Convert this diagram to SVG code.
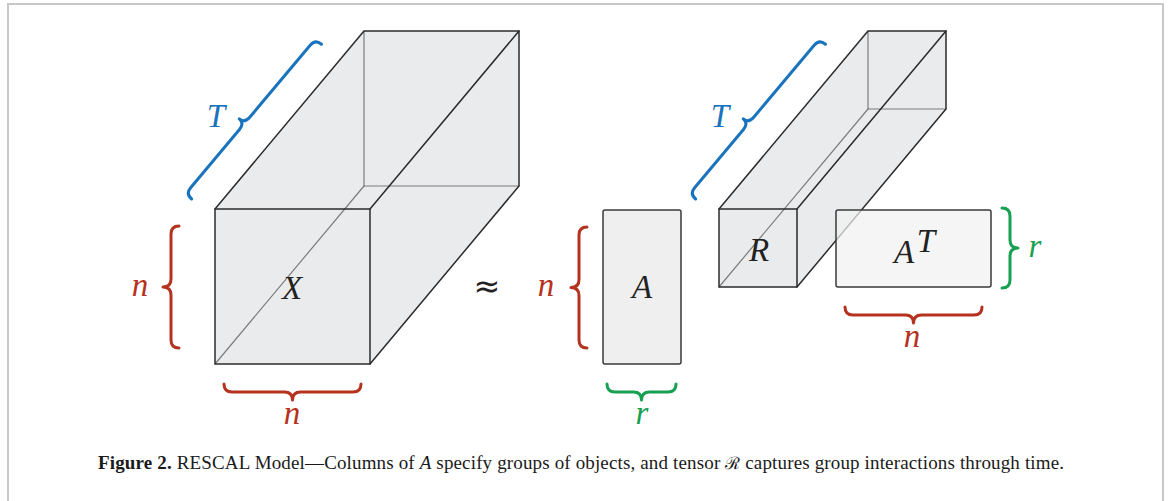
<svg xmlns="http://www.w3.org/2000/svg" width="1170" height="501" viewBox="0 0 1170 501">
<style>
.bg{fill:#ffffff}
.frame{fill:none;stroke:#c8c8c8;stroke-width:2}
.hull{fill:#eaebed;stroke:none}
.edge{fill:none;stroke:#2b2b2b;stroke-width:1.5;stroke-linejoin:round;stroke-linecap:round}
.hid{fill:none;stroke:#7c7c7c;stroke-width:1.2;stroke-linecap:round}
.mat{fill:#efefef;stroke:#3a3a3a;stroke-width:1.5}
.matT{fill:#f1f1f1;fill-opacity:0.72;stroke:#3a3a3a;stroke-width:1.5}
.br{fill:none;stroke-width:3;stroke-linecap:round;stroke-linejoin:round}
.red{stroke:#b5321e}
.blue{stroke:#1a73bd}
.green{stroke:#17a052}
.m{font-family:"Liberation Serif",serif;font-style:italic;font-size:33px;text-anchor:middle}
.tr{fill:#b5321e}
.tb{fill:#1a73bd}
.tg{fill:#17a052}
.tk{fill:#222222}
.cap{font-family:"Liberation Serif",serif;font-size:19px;fill:#1a1a1a}
</style>
<rect class="bg" x="0" y="0" width="1170" height="501"/>
<rect class="frame" x="8" y="4" width="1155" height="520"/>

<g id="tensor-X">
  <polygon class="hull" points="215,209 364,31 519,31 519,186 370,364 215,364"/>
  <line class="hid" x1="364" y1="31" x2="364" y2="186"/>
  <line class="hid" x1="364" y1="186" x2="519" y2="186"/>
  <line class="hid" x1="215" y1="364" x2="364" y2="186"/>
  <rect class="edge" x="215" y="209" width="155" height="155"/>
  <polyline class="edge" points="215,209 364,31 519,31 519,186 370,364"/>
  <line class="edge" x1="370" y1="209" x2="519" y2="31"/>
  <text class="m tk" x="292" y="299" font-size="34">X</text>
</g>

<g id="brace-X-n-left">
  <path class="br red" transform="translate(179,348) rotate(-90)" d="M0,0 Q0,-8 8,-8 L53,-8 Q61,-8 61,-16 Q61,-8 69,-8 L114,-8 Q122,-8 122,0"/>
  <text class="m tr" x="140" y="296">n</text>
</g>
<g id="brace-X-n-bottom">
  <path class="br red" transform="translate(224,384) scale(1,-1)" d="M0,0 Q0,-8 8,-8 L60.5,-8 Q68.5,-8 68.5,-16 Q68.5,-8 76.5,-8 L129,-8 Q137,-8 137,0"/>
  <text class="m tr" x="292" y="424">n</text>
</g>
<g id="brace-X-T">
  <path class="br blue" transform="translate(191.6,199) rotate(-50)" d="M0,0 Q0,-8 8,-8 L84,-8 Q92,-8 92,-15 Q92,-8 100,-8 L194,-8 Q202,-8 202,0"/>
  <text class="m tb" x="216" y="127" font-size="28">T</text>
</g>

<g id="approx">
  <text x="487" y="297" font-family="DejaVu Sans, sans-serif" font-size="32" text-anchor="middle" fill="#222">≈</text>
</g>

<g id="matrix-A">
  <rect class="mat" x="603" y="210" width="78" height="154" rx="2"/>
  <text class="m tk" x="642" y="298">A</text>
</g>
<g id="brace-A-n">
  <path class="br red" transform="translate(587,348) rotate(-90)" d="M0,0 Q0,-8 8,-8 L52.5,-8 Q60.5,-8 60.5,-16 Q60.5,-8 68.5,-8 L113,-8 Q121,-8 121,0"/>
  <text class="m tr" x="546" y="296">n</text>
</g>
<g id="brace-A-r">
  <path class="br green" transform="translate(607,384) scale(1,-1)" d="M0,0 Q0,-8 8,-8 L26.5,-8 Q34.5,-8 34.5,-16 Q34.5,-8 42.5,-8 L61,-8 Q69,-8 69,0"/>
  <text class="m tg" x="642" y="424">r</text>
</g>

<g id="tensor-R">
  <polygon class="hull" points="719,209 868,31 946,31 946,109 797,287 719,287"/>
  <line class="hid" x1="868" y1="31" x2="868" y2="109"/>
  <line class="hid" x1="868" y1="109" x2="946" y2="109"/>
  <line class="hid" x1="719" y1="287" x2="868" y2="109"/>
  <rect class="edge" x="719" y="209" width="78" height="78"/>
  <polyline class="edge" points="719,209 868,31 946,31 946,109 797,287"/>
  <line class="edge" x1="797" y1="209" x2="946" y2="31"/>
  <text class="m tk" x="759" y="261">R</text>
</g>
<g id="brace-R-T">
  <path class="br blue" transform="translate(695.6,199) rotate(-50)" d="M0,0 Q0,-8 8,-8 L84,-8 Q92,-8 92,-15 Q92,-8 100,-8 L194,-8 Q202,-8 202,0"/>
  <text class="m tb" x="720" y="127" font-size="28">T</text>
</g>

<g id="matrix-AT">
  <rect class="matT" x="836" y="210" width="155" height="77" rx="2"/>
  <text class="m tk" x="904" y="263">A</text>
  <text class="m tk" x="926" y="252" font-size="22">T</text>
</g>
<g id="brace-AT-r">
  <path class="br green" transform="translate(1002,208) rotate(90)" d="M0,0 Q0,-8 8,-8 L32,-8 Q40,-8 40,-16 Q40,-8 48,-8 L72,-8 Q80,-8 80,0"/>
  <text class="m tg" x="1035" y="257">r</text>
</g>
<g id="brace-AT-n">
  <path class="br red" transform="translate(845,307) scale(1,-1)" d="M0,0 Q0,-8 8,-8 L60.5,-8 Q68.5,-8 68.5,-16 Q68.5,-8 76.5,-8 L129,-8 Q137,-8 137,0"/>
  <text class="m tr" x="912" y="347">n</text>
</g>

<g id="connectors"></g>

<g id="caption">
  <text class="cap" x="98" y="469" textLength="966" lengthAdjust="spacing"><tspan font-weight="bold">Figure 2.</tspan> RESCAL Model—Columns of <tspan font-style="italic">A</tspan> specify groups of objects, and tensor <tspan font-family="DejaVu Serif, serif" font-size="17">ℛ</tspan> captures group interactions through time.</text>
</g>
</svg>
